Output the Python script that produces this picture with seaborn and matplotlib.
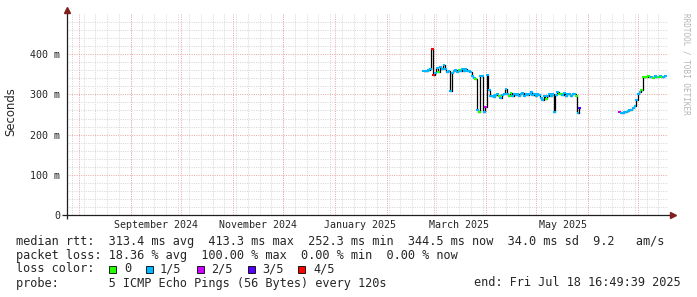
import matplotlib
matplotlib.use("Agg")
import matplotlib.pyplot as plt
import seaborn as sns
import pandas as pd
from matplotlib.patches import Rectangle

# ---------------- data ----------------
seg1_start = "2025-02-23"
seg1_rtt_ms = [
    358, 358, 357, 360, 364, 413, 348, 352, 366, 356,
    368, 362, 372, 362, 355, 358, 308, 352, 358, 360,
    355, 360, 357, 362, 357, 362, 358, 358, 355, 345,
    340, 338, 262, 256, 345, 347, 256, 268, 348, 312,
    295, 297, 293, 298, 300, 296, 291, 298, 302, 313,
    300, 297, 303, 296, 300, 298, 302, 296, 300, 303,
    297, 300, 298, 302, 305, 298, 300, 296, 300, 298,
    290, 285, 295, 288, 297, 300, 296, 300, 256, 298,
    305, 300, 302, 298, 303, 297, 300, 302, 296, 300,
    300, 297, 253, 265,
]
seg1_loss = [
    1, 1, 1, 1, 1, 4, 4, 1, 1, 0,
    1, 1, 1, 1, 1, 1, 1, 1, 1, 1,
    1, 0, 1, 1, 1, 1, 1, 1, 1, 1,
    1, 0, 1, 0, 1, 1, 1, 2, 1, 1,
    1, 1, 1, 1, 1, 0, 1, 1, 1, 1,
    1, 0, 0, 1, 1, 1, 1, 1, 1, 1,
    1, 1, 1, 1, 1, 1, 1, 1, 1, 1,
    1, 1, 1, 0, 1, 1, 1, 1, 1, 1,
    1, 0, 0, 1, 1, 1, 1, 1, 1, 1,
    1, 0, 1, 3,
]
seg2_start = "2025-06-20"
seg2_rtt_ms = [
    257, 254, 253, 255, 256, 258, 260, 262, 266, 270,
    287, 300, 305, 312, 344, 344, 343, 345, 343, 344,
    342, 345, 343, 344, 346, 343, 344, 345,
]
seg2_loss = [
    2, 1, 1, 1, 1, 1, 1, 1, 1, 1,
    1, 1, 1, 0, 0, 0, 0, 0, 0, 1,
    0, 1, 1, 0, 1, 0, 1, 1,
]

loss_labels = ["0", "1/5", "2/5", "3/5", "4/5"]
loss_colors = ["#26ff00", "#00b8ff", "#cc00ff", "#5500ff", "#ff0000"]

x_start = "2024-07-25 00:00"
x_end = "2025-07-18 16:49:39"
x_label_dates = ["2024-09-16", "2024-11-16", "2025-01-16", "2025-03-16", "2025-05-17"]
x_label_texts = ["September 2024", "November 2024", "January 2025", "March 2025", "May 2025"]
y_ticks = [0, 100, 200, 300, 400]
y_tick_labels = ["0", "100 m", "200 m", "300 m", "400 m"]

legend_rtt = "median rtt:  313.4 ms avg  413.3 ms max  252.3 ms min  344.5 ms now  34.0 ms sd  9.2   am/s"
legend_loss = "packet loss: 18.36 % avg  100.00 % max  0.00 % min  0.00 % now"
legend_color = "loss color:"
legend_probe = "probe:       5 ICMP Echo Pings (56 Bytes) every 120s"
legend_end = "end: Fri Jul 18 16:49:39 2025"
side_text = "RRDTOOL / TOBI OETIKER"

# ---------------- build table ----------------
df1 = pd.DataFrame({
    "date": pd.date_range(seg1_start, periods=len(seg1_rtt_ms), freq="D"),
    "rtt": seg1_rtt_ms,
    "loss": [loss_labels[i] for i in seg1_loss],
    "seg": 1,
})
df2 = pd.DataFrame({
    "date": pd.date_range(seg2_start, periods=len(seg2_rtt_ms), freq="D"),
    "rtt": seg2_rtt_ms,
    "loss": [loss_labels[i] for i in seg2_loss],
    "seg": 2,
})
df = pd.concat([df1, df2], ignore_index=True)

# ---------------- figure ----------------
sns.set_style("white")
plt.rcParams["font.family"] = ["DejaVu Sans Mono"]

W, H = 697, 297
fig = plt.figure(figsize=(W / 100, H / 100), dpi=100)
fig.patch.set_facecolor("white")
ax_l, ax_r, ax_t, ax_b = 67, 668, 14, 215
ax = fig.add_axes([ax_l / W, (H - ax_b) / H, (ax_r - ax_l) / W, (ax_b - ax_t) / H])
ax.set_facecolor("white")

xmin, xmax = pd.Timestamp(x_start), pd.Timestamp(x_end)
ax.set_xlim(xmin, xmax)
ax.set_ylim(0, 500)

minor_col = "#d6d6d6"
major_col = "#eaa8a8"
dot = (0, (1, 1.3))

# grid: weekly (Sundays) and 20 m minor, monthly and 100 m major
weeks = pd.date_range("2024-07-28", x_end, freq="7D")
months = pd.date_range("2024-08-01", x_end, freq="MS")
ax.vlines(weeks, 0, 500, colors=minor_col, linestyles=dot, linewidth=0.72, zorder=1)
minor_y = [v for v in range(20, 501, 20) if v % 100 != 0]
ax.hlines(minor_y, xmin, xmax, colors=minor_col, linestyles=dot, linewidth=0.72, zorder=1)
ax.vlines(months, 0, 500, colors=major_col, linestyles=dot, linewidth=0.72, zorder=2)
ax.hlines([100, 200, 300, 400], xmin, xmax, colors=major_col, linestyles=dot, linewidth=0.72, zorder=2)

# median line (black step) and loss-colored pieces
sns.lineplot(data=df, x="date", y="rtt", units="seg", estimator=None, color="black",
             linewidth=0.9, drawstyle="steps-mid", ax=ax, legend=False, zorder=3)
sns.scatterplot(data=df, x="date", y="rtt", hue="loss",
                palette=dict(zip(loss_labels, loss_colors)), marker="_", s=4.5,
                linewidth=1.5, ax=ax, legend=False, zorder=4)

# axes: no spines, custom axis lines with arrows
sns.despine(ax=ax, left=True, bottom=True, right=True, top=True)
axis_col = "#1f1f1f"
arrow_col = "#801f1f"
pw, ph = ax_r - ax_l, ax_b - ax_t
ax.plot([-5 / pw, 1 + 4 / pw], [0, 0], transform=ax.transAxes, color=axis_col,
        lw=0.9, clip_on=False, zorder=6, solid_capstyle="butt")
ax.plot([0, 0], [-4 / ph, 1 + 3 / ph], transform=ax.transAxes, color=axis_col,
        lw=0.9, clip_on=False, zorder=6, solid_capstyle="butt")
ax.plot([1 + 5 / pw], [0], transform=ax.transAxes, marker=">", ms=4.5, color=arrow_col,
        mec=arrow_col, clip_on=False, zorder=7)
ax.plot([0], [1 + 4 / ph], transform=ax.transAxes, marker="^", ms=4.5, color=arrow_col,
        mec=arrow_col, clip_on=False, zorder=7)

ax.set_xticks(pd.to_datetime(x_label_dates))
ax.set_xticklabels(x_label_texts, fontsize=7.2, family="DejaVu Sans Mono")
ax.set_yticks(y_ticks)
ax.set_yticklabels(y_tick_labels, fontsize=7.2, family="DejaVu Sans Mono")
ax.tick_params(axis="both", length=0)
ax.tick_params(axis="x", pad=3.5)
ax.tick_params(axis="y", pad=5)
ax.set_xlabel("")
ax.set_ylabel("")
ax.minorticks_off()


def fx(px):
    return px / W


def fy(py):
    return 1 - py / H


fig.text(fx(11), fy(112), "Seconds", rotation=90, ha="center", va="center",
         fontsize=8.4, family="DejaVu Sans")
fig.text(fx(686), fy(64), side_text, rotation=270, ha="center", va="center",
         fontsize=5.5, color="#b4b4b4", family="DejaVu Sans Mono")

lfs = 8.55
fig.text(fx(16), fy(241.5), legend_rtt, ha="left", va="center", fontsize=lfs)
fig.text(fx(16), fy(255.5), legend_loss, ha="left", va="center", fontsize=lfs)
fig.text(fx(16), fy(269), legend_color, ha="left", va="center", fontsize=lfs)
fig.text(fx(16), fy(283), legend_probe, ha="left", va="center", fontsize=lfs)
fig.text(fx(681), fy(283), legend_end, ha="right", va="center", fontsize=lfs)

box_x = [109, 146, 197, 248, 298]
lab_x = [124, 160, 211, 262, 313]
for bx, lx, col, lab in zip(box_x, lab_x, loss_colors, loss_labels):
    fig.patches.append(Rectangle((fx(bx), fy(272.5)), 7 / W, 7 / H, transform=fig.transFigure,
                                 facecolor=col, edgecolor="black", linewidth=0.6))
    fig.text(fx(lx), fy(269), lab, ha="left", va="center", fontsize=lfs)

fig.savefig("out.png", dpi=100, facecolor="white")
